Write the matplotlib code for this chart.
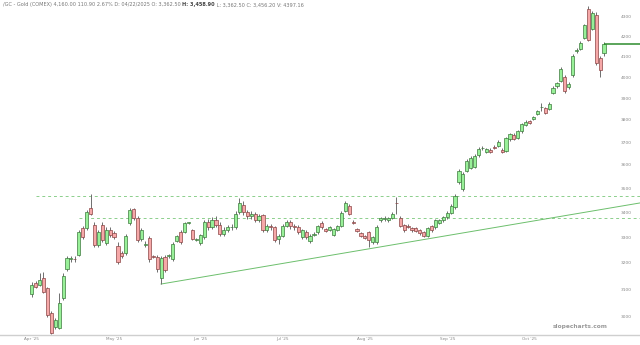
import matplotlib
matplotlib.use("Agg")
import matplotlib.pyplot as plt
from matplotlib.ticker import FixedLocator, NullLocator, FuncFormatter

# ---------------- data ----------------
opens = [3083, 3125, 3117, 3143, 3106, 3013, 2963, 2960, 3068, 3177,
         3215, 3217, 3231, 3337, 3337, 3418, 3349, 3270, 3349, 3277,
         3329, 3317, 3266, 3239, 3239, 3357, 3414, 3377, 3293, 3270,
         3297, 3227, 3223, 3142, 3223, 3225, 3215, 3285, 3321, 3321,
         3357, 3329, 3291, 3277,
         3300, 3360, 3340, 3370, 3350, 3315, 3330, 3340, 3342, 3400,
         3430, 3400, 3385, 3395, 3370, 3390, 3330, 3345, 3340, 3295,
         3305, 3345, 3360, 3345, 3340,
         3301, 3321, 3285, 3311, 3321, 3357, 3333, 3329, 3309, 3329,
         3345, 3406, 3427, 3363, 3333, 3317, 3305, 3321, 3281, 3281,
         3369, 3373, 3369, 3377, 3440, 3377, 3349, 3347, 3337, 3337,
         3329, 3320, 3305, 3345, 3341, 3357, 3369, 3381, 3398, 3422,
         3526, 3497, 3574, 3587, 3591, 3643, 3672, 3656, 3665, 3678,
         3682,
         3665, 3660, 3712, 3730, 3718, 3748, 3778, 3795,
         3804, 3826, 3858, 3854, 3849, 3924, 3957, 3981, 4000, 3952,
         4009, 4128, 4137, 4192, 4340, 4238, 4310, 4093, 4117]
closes = [3117, 3110, 3135, 3091, 3006, 2942, 2988, 3050, 3150, 3219,
          3219, 3214, 3321, 3301, 3402, 3394, 3270, 3321, 3289, 3329,
          3309, 3301, 3203, 3227, 3305, 3410, 3377, 3289, 3329, 3272,
          3215, 3223, 3177, 3219, 3173, 3229, 3274, 3305, 3281, 3357,
          3359, 3293, 3293, 3309,
          3360, 3340, 3370, 3350, 3315, 3330, 3340, 3342, 3395, 3440,
          3400, 3385, 3395, 3370, 3385, 3330, 3345, 3340, 3290, 3305,
          3345, 3360, 3345, 3342, 3320,
          3329, 3301, 3305, 3315, 3345, 3341, 3325, 3341, 3333, 3345,
          3398, 3440, 3394, 3359, 3325, 3305, 3297, 3289, 3301, 3341,
          3377, 3375, 3377, 3394, 3438, 3345, 3329, 3343, 3329, 3325,
          3317, 3305, 3337, 3329, 3369, 3369, 3381, 3398, 3427, 3468,
          3574, 3561, 3617, 3630, 3639, 3669, 3674, 3669, 3656, 3674,
          3700,
          3656, 3718, 3736, 3715, 3750, 3780, 3792, 3785,
          3813, 3840, 3860, 3831, 3872, 3947, 3971, 4039, 3933, 3966,
          4103, 4132, 4167, 4258, 4182, 4320, 4068, 4034, 4160]
highs = [3128, 3132, 3163, 3165, 3110, 3020, 2995, 3087, 3160, 3225,
         3225, 3228, 3330, 3345, 3410, 3478, 3360, 3330, 3360, 3340,
         3340, 3325, 3280, 3245, 3312, 3420, 3420, 3385, 3337, 3285,
         3305, 3232, 3230, 3228, 3230, 3236, 3280, 3310, 3328, 3362,
         3362, 3335, 3298, 3315,
         3370, 3375, 3380, 3385, 3360, 3340, 3350, 3355, 3405, 3460,
         3445, 3410, 3405, 3400, 3395, 3395, 3355, 3355, 3345, 3315,
         3355, 3370, 3370, 3355, 3350,
         3335, 3328, 3312, 3320, 3350, 3365, 3338, 3345, 3338, 3350,
         3405, 3448, 3435, 3368, 3338, 3322, 3310, 3325, 3305, 3348,
         3382, 3385, 3383, 3400, 3464, 3385, 3355, 3352, 3342, 3342,
         3335, 3325, 3342, 3350, 3375, 3375, 3387, 3404, 3433, 3475,
         3582, 3568, 3625, 3638, 3645, 3678, 3682, 3675, 3672, 3685,
         3708,
         3672, 3722, 3742, 3738, 3755, 3785, 3798, 3800,
         3818, 3845, 3877, 3860, 3880, 3955, 3978, 4048, 4010, 3975,
         4110, 4140, 4175, 4265, 4355, 4330, 4325, 4100, 4172]
lows = [3072, 3105, 3112, 3085, 3000, 2940, 2955, 2955, 3060, 3170,
        3205, 3205, 3225, 3295, 3330, 3390, 3262, 3262, 3280, 3270,
        3300, 3295, 3195, 3220, 3232, 3350, 3370, 3282, 3285, 3262,
        3205, 3218, 3165, 3120, 3165, 3218, 3208, 3280, 3275, 3316,
        3352, 3288, 3285, 3270,
        3295, 3330, 3335, 3340, 3305, 3305, 3320, 3330, 3335, 3395,
        3390, 3375, 3375, 3360, 3360, 3320, 3320, 3330, 3280, 3275,
        3300, 3340, 3335, 3330, 3315,
        3295, 3295, 3276, 3305, 3315, 3335, 3320, 3325, 3305, 3325,
        3340, 3400, 3390, 3355, 3320, 3300, 3292, 3263, 3275, 3275,
        3363, 3366, 3363, 3372, 3394, 3340, 3322, 3338, 3322, 3320,
        3310, 3300, 3300, 3322, 3335, 3352, 3363, 3375, 3392, 3415,
        3520, 3490, 3568, 3580, 3585, 3636, 3665, 3650, 3650, 3668,
        3676,
        3650, 3655, 3705, 3710, 3712, 3742, 3772, 3780,
        3800, 3820, 3840, 3825, 3845, 3918, 3950, 3976, 3925, 3945,
        4000, 4118, 4130, 4185, 4175, 4230, 4060, 4000, 4100]

month_labels = ["Apr '25", "May '25", "Jun '25", "Jul '25", "Aug '25", "Sep '25", "Oct '25"]
month_pos = [0, 21, 43, 64, 85, 106, 127]
price_ticks = [3000, 3100, 3200, 3300, 3400, 3500, 3600, 3700, 3800, 3900,
               4000, 4100, 4200, 4300]

upper_level = 3468          # dashed resistance (April high)
upper_start = 1
lower_level = 3377          # dashed range top
lower_start = 12
trend_x = [33, 155.2]
trend_y = [3120, 3439]
last_price = 4160

title_a = "/GC - Gold (COMEX) 4,160.00 110.90 2.67% D: 04/22/2025 O: 3,362.50 "
title_b = "H: 3,458.90"
title_c = " L: 3,362.50 C: 3,456.20 V: 4397.16"

# ---------------- figure ----------------
W, H = 640, 345
AX_H = 335  # axes spans from the top of the figure down to the x-axis line
fig = plt.figure(figsize=(W / 100, H / 100), dpi=100)
ax = fig.add_axes([0, 1 - AX_H / H, 1, AX_H / H])
ax.set_yscale("log")
x0, x1 = -8.09, 155.18
ax.set_xlim(x0, x1)
ax.set_ylim(2934.8, 4387.7)

n = len(opens)
xs = list(range(n))
up_face, up_edge = "#98f098", "#3d7a3d"
dn_face, dn_edge = "#f6a8a8", "#8a4545"
wick_col = "#6e6e6e"

for i in xs:
    o, c, h, l = opens[i], closes[i], highs[i], lows[i]
    up = c >= o
    ax.vlines(i, l, h, color=wick_col, linewidth=0.7, zorder=2)
    lo, hi = min(o, c), max(o, c)
    if hi - lo < 2.5:
        hi = lo + 2.5
    ax.bar(i, hi - lo, bottom=lo, width=0.8,
           color=up_face if up else dn_face,
           edgecolor=up_edge if up else dn_edge, linewidth=0.5, zorder=3)

# annotations
ax.hlines(upper_level, upper_start, x1, colors="#8ccf8c", linestyles=(0, (3, 3)), linewidth=0.7, zorder=1)
ax.hlines(lower_level, lower_start, x1, colors="#8ccf8c", linestyles=(0, (3, 3)), linewidth=0.7, zorder=1)
ax.plot(trend_x, trend_y, color="#6cbf6c", linewidth=0.7, zorder=1)
ax.hlines(last_price, n - 1, x1, colors="#2e8b2e", linewidth=1.1, zorder=4)

# axes styling
for s in ["top", "left", "right"]:
    ax.spines[s].set_visible(False)
ax.spines["bottom"].set_color("#cfcfcf")
ax.spines["bottom"].set_linewidth(1.0)

ax.yaxis.set_major_locator(FixedLocator(price_ticks))
ax.yaxis.set_minor_locator(NullLocator())
ax.yaxis.set_major_formatter(FuncFormatter(lambda v, p: f"{int(round(v))}"))
ax.yaxis.tick_right()
ax.tick_params(axis="y", length=0, pad=-14, labelsize=3.2, labelcolor="#888888")

ax.set_xticks(month_pos)
ax.set_xticklabels(month_labels)
ax.tick_params(axis="x", length=0, pad=1.5, labelsize=3.0, labelcolor="#888888")

# title line (three pieces chained so the middle one can be bold)
t1 = ax.text(0.004, 0.993, title_a, transform=ax.transAxes, fontsize=3.6,
             color="#777777", va="top", ha="left")
t2 = ax.annotate(title_b, xy=(1, 0), xycoords=t1, fontsize=3.6,
                 color="#444444", va="bottom", ha="left", fontweight="bold")
ax.annotate(title_c, xy=(1, 0), xycoords=t2, fontsize=3.6,
            color="#777777", va="bottom", ha="left")

ax.text(0.95, 0.024, "slopecharts.com", transform=ax.transAxes, fontsize=4.2,
        color="#9a9a9a", ha="right", va="center", fontweight="bold")

fig.savefig("out.png", dpi=100)
